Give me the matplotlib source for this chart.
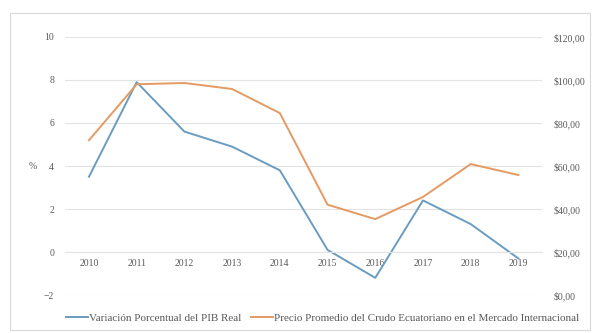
import matplotlib
matplotlib.use("Agg")
import matplotlib.pyplot as plt
from matplotlib.patches import Rectangle
from matplotlib.ticker import FuncFormatter

years = ['2010', '2011', '2012', '2013', '2014', '2015', '2016', '2017', '2018', '2019']
pib = [3.5, 7.9, 5.6, 4.9, 3.8, 0.1, -1.2, 2.4, 1.3, -0.3]
crudo = [72.0, 98.0, 98.6, 95.8, 84.6, 42.0, 35.3, 45.6, 60.9, 55.8]

plt.rcParams['font.family'] = ['Liberation Serif', 'DejaVu Serif']
plt.rcParams['font.size'] = 7

color_pib = '#6B9CC0'
color_crudo = '#E49A62'
grid_color = '#E3E3E3'
text_color = '#595959'

fig = plt.figure(figsize=(5.92, 3.33), dpi=100)
# marco gris del gráfico
fig.patches.append(Rectangle((10 / 592, 3 / 333), 580 / 592, 317 / 333,
                             transform=fig.transFigure, fill=False,
                             edgecolor='#D9D9D9', linewidth=0.8))

ax = fig.add_axes([0.110, 0.114, 0.806, 0.775])
x = list(range(len(years)))
ax.plot(x, pib, color=color_pib, linewidth=1.4, label='Variación Porcentual del PIB Real')
ax.set_ylim(-2, 10)
ax.set_xlim(-0.5, len(years) - 0.5)
ax.set_yticks(range(-2, 11, 2))
ax.set_xticks(x)
ax.set_xticklabels(years)
ax.yaxis.grid(True, color=grid_color, linewidth=0.8)
ax.set_axisbelow(True)
for s in ['top', 'left', 'right']:
    ax.spines[s].set_visible(False)
ax.spines['bottom'].set_position(('data', 0))
ax.spines['bottom'].set_color(grid_color)
ax.tick_params(axis='both', length=0, colors=text_color, pad=8)
ax.tick_params(axis='x', pad=5)
ax.set_ylabel('%', rotation=0, color=text_color, labelpad=8, va='center')

ax2 = ax.twinx()
ax2.plot(x, crudo, color=color_crudo, linewidth=1.4,
         label='Precio Promedio del Crudo Ecuatoriano en el Mercado Internacional')
ax2.set_ylim(0, 120)
ax2.set_yticks(range(0, 121, 20))
ax2.yaxis.set_major_formatter(FuncFormatter(lambda v, p: '$' + f'{v:.2f}'.replace('.', ',')))
for s in ax2.spines.values():
    s.set_visible(False)
ax2.tick_params(axis='y', length=0, colors=text_color, pad=8)

h1, l1 = ax.get_legend_handles_labels()
h2, l2 = ax2.get_legend_handles_labels()
leg = fig.legend(h1 + h2, l1 + l2, loc='center', bbox_to_anchor=(0.545, 0.045),
                 ncol=2, frameon=False, handlelength=2.0, handletextpad=0.1,
                 columnspacing=0.8, fontsize=8.0)
for t in leg.get_texts():
    t.set_color(text_color)

fig.savefig('out.png', dpi=100)
